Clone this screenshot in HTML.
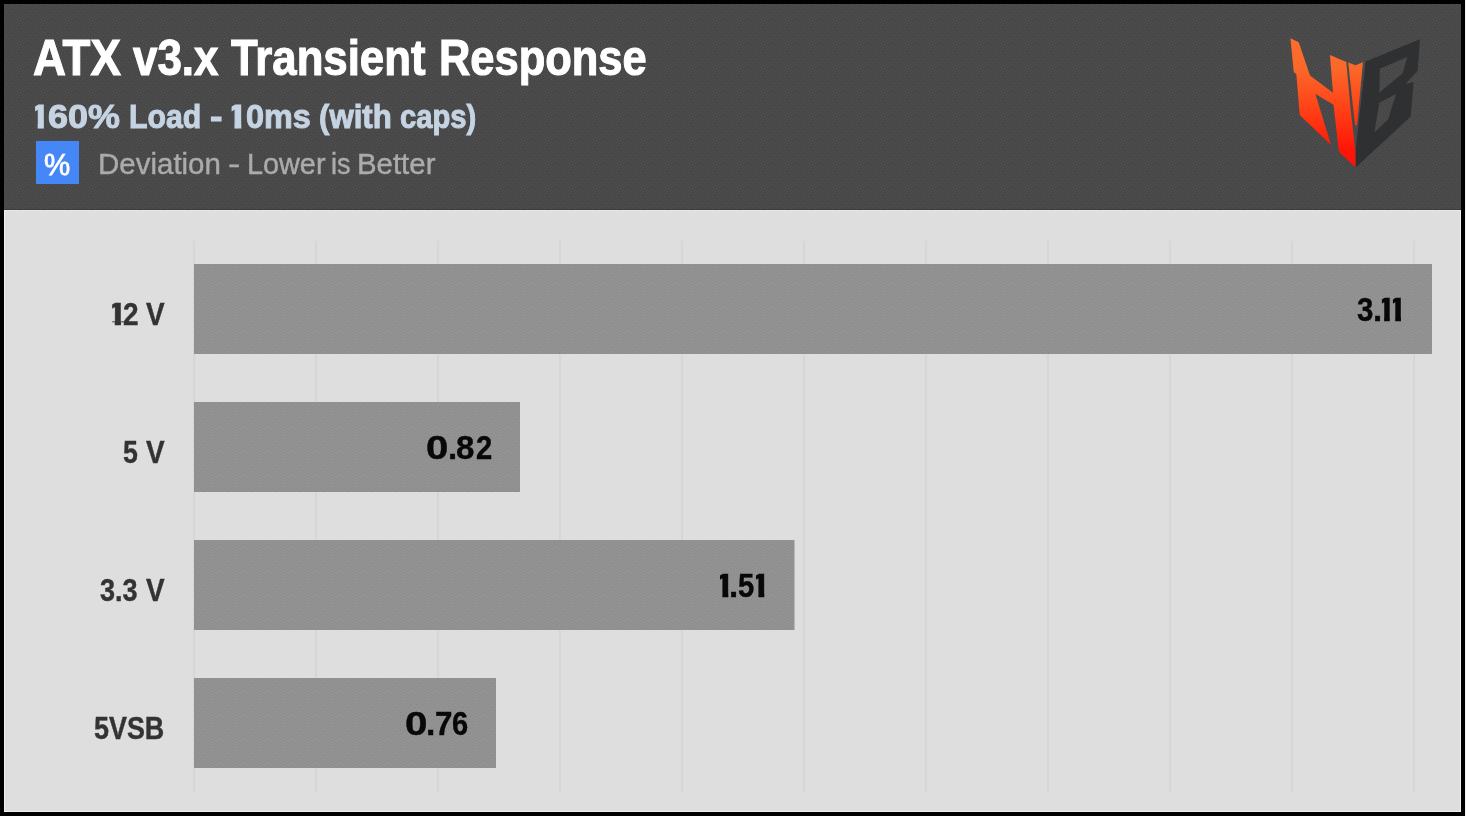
<!DOCTYPE html>
<html lang="en">
<head>
<meta charset="utf-8">
<title>ATX v3.x Transient Response</title>
<style>
*{margin:0;padding:0;box-sizing:border-box}
html,body{width:1466px;height:816px;overflow:hidden;background:#000}
body{position:relative;font-family:"Liberation Sans",sans-serif}
#frame{position:absolute;left:4px;top:4px;width:1457px;height:808px;background:#dedede;overflow:hidden}
#edge{position:absolute;left:1465px;top:0;width:1px;height:816px;background:#f4f4f4}
.ln{position:absolute;white-space:nowrap;font-size:0;line-height:0}
.ln span{display:inline-block;font-size:var(--f);line-height:1;transform-origin:0 0;vertical-align:top}
.t{position:absolute;top:0;white-space:nowrap;line-height:1;transform-origin:0 0}
.ti{font-weight:700;color:#fff;-webkit-text-stroke:1.1px #fff}
.su{font-weight:700;color:#c5d3e3;-webkit-text-stroke:1.0px #c5d3e3}
.de{color:#ababab;-webkit-text-stroke:0.4px #ababab}
.pc{color:#fff}
.la{font-weight:700;color:#333;-webkit-text-stroke:0.4px #333}
.va{font-weight:700;color:#080808;-webkit-text-stroke:0.4px #080808}
#unit{position:absolute;left:32px;top:137px;width:43px;height:43px;background:#4687f7}
</style>
</head>
<body>
<div id="frame">
  <svg id="bg" width="1457" height="808" viewBox="0 0 1457 808" style="position:absolute;left:0;top:0" shape-rendering="crispEdges">
  <defs>
    <pattern id="ph" width="6" height="6" patternUnits="userSpaceOnUse"><rect x="0" y="0" width="1" height="1" fill="#535353"/><rect x="3" y="1" width="1" height="1" fill="#535353"/><rect x="1" y="3" width="1" height="1" fill="#535353"/><rect x="4" y="4" width="1" height="1" fill="#535353"/></pattern>
    <pattern id="pb" width="6" height="6" patternUnits="userSpaceOnUse"><rect x="0" y="0" width="1" height="1" fill="#87878c"/><rect x="3" y="1" width="1" height="1" fill="#87878c"/><rect x="1" y="3" width="1" height="1" fill="#87878c"/><rect x="4" y="4" width="1" height="1" fill="#87878c"/></pattern>
  </defs>
  <rect x="0" y="0" width="1457" height="205" fill="#484848"/>
  <rect x="0" y="0" width="1457" height="205" fill="url(#ph)"/>
  <rect x="0" y="205" width="1457" height="1" fill="#3c3c3c"/>
  <rect x="0" y="206" width="1457" height="1" fill="#e8e8e8"/>
  <rect x="189" y="237" width="2" height="551" fill="#d6d6d6"/><rect x="311" y="237" width="2" height="551" fill="#d6d6d6"/><rect x="433" y="237" width="2" height="551" fill="#d6d6d6"/><rect x="555" y="237" width="2" height="551" fill="#d6d6d6"/><rect x="677" y="237" width="2" height="551" fill="#d6d6d6"/><rect x="799" y="237" width="2" height="551" fill="#d6d6d6"/><rect x="921" y="237" width="2" height="551" fill="#d6d6d6"/><rect x="1043" y="237" width="2" height="551" fill="#d6d6d6"/><rect x="1165" y="237" width="2" height="551" fill="#d6d6d6"/><rect x="1287" y="237" width="2" height="551" fill="#d6d6d6"/><rect x="1409" y="237" width="2" height="551" fill="#d6d6d6"/>
  <rect x="190" y="260" width="1238" height="90" fill="#929292" shape-rendering="auto"/><rect x="190" y="260" width="1238" height="90" fill="url(#pb)"/><rect x="190" y="398" width="326" height="90" fill="#929292" shape-rendering="auto"/><rect x="190" y="398" width="326" height="90" fill="url(#pb)"/><rect x="190" y="536" width="600.5" height="90" fill="#929292" shape-rendering="auto"/><rect x="190" y="536" width="600" height="90" fill="url(#pb)"/><rect x="190" y="674" width="302" height="90" fill="#929292" shape-rendering="auto"/><rect x="190" y="674" width="302" height="90" fill="url(#pb)"/>
  <rect x="1456" y="207" width="1" height="601" fill="#f0f0f0"/>
  <rect x="0" y="207" width="1" height="601" fill="#f0f0f0"/>
  <rect x="0" y="807" width="1457" height="1" fill="#f0f0f0"/>
</svg>
  <div id="unit"><span class="t pc" style="text-rendering:geometricPrecision;left:8.26px;top:9.08px;font-size:30.48px;-webkit-text-stroke:0.76px #fff;transform:scaleX(0.9685)">%</span></div>
  <div class="ln ti" aria-label="ATX v3.x Transient Response" style="left:29.14px;top:29.98px;--f:49.56px"><span style="width:99.90px;transform:scaleX(0.9213)">ATX</span> <span style="width:97.86px;transform:scaleX(0.8861)">v3.x</span> <span style="width:207.71px;transform:scaleX(0.8828)">Transient</span> <span style="width:0.00px;transform:scaleX(0.8766)">Response</span></div>
  <div class="ln su" aria-label="160% Load - 10ms (with caps)" style="left:25.55px;top:95.69px;--f:33.43px"><span style="width:18.33px;transform:scaleX(1.0666);clip-path:polygon(0.1416em 0,.5em 0,.5em 0.7257em,0.3896em 0.7257em,0.3896em 1em,0.2144em 1em,0.2144em 0.7257em,0.1416em 0.7257em)">1</span><span style="width:81.31px;transform:scaleX(1.0750)">60%</span> <span style="width:80.47px;transform:scaleX(0.9052)">Load</span> <span style="width:16.57px;transform:scaleX(1.1230)">-</span> <span style="width:19.66px;transform:scaleX(1.1769);clip-path:polygon(0.1416em 0,.5em 0,.5em 0.7257em,0.3896em 0.7257em,0.3896em 1em,0.2144em 1em,0.2144em 0.7257em,0.1416em 0.7257em)">1</span><span style="width:73.32px;transform:scaleX(0.9679)">0ms</span> <span style="width:80.56px;transform:scaleX(0.9333)">(with</span> <span style="width:0.00px;transform:scaleX(0.8739)">caps)</span></div>
  <div class="ln de" aria-label="Deviation - Lower is Better" style="left:94.39px;top:146.19px;--f:29.07px"><span style="width:129.42px;transform:scaleX(1.0145)">Deviation</span> <span style="width:18.73px;transform:scaleX(1.2815)">-</span> <span style="width:84.83px;transform:scaleX(0.9916)">Lower</span> <span style="width:25.22px;transform:scaleX(0.9318)">is</span> <span style="width:0.00px;transform:scaleX(1.0114)">Better</span></div>
  <div class="ln la" aria-label="12 V" style="left:102.41px;top:295.59px;--f:30.96px"><span style="width:16.95px;transform:scaleX(1.2673);clip-path:polygon(0.1579em 0,.5em 0,.5em 0.7342em,0.3811em 0.7342em,0.3811em 1em,0.2229em 1em,0.2229em 0.7342em,0.1579em 0.7342em)">1</span><span style="width:22.34px;transform:scaleX(0.9031)">2</span> <span style="width:0.00px;transform:scaleX(0.9015)">V</span></div>
  <div class="ln la" aria-label="5 V" style="left:119.23px;top:433.59px;--f:30.96px"><span style="width:22.47px;transform:scaleX(0.8613)">5</span> <span style="width:0.00px;transform:scaleX(0.9015)">V</span></div>
  <div class="ln la" aria-label="3.3 V" style="left:96.49px;top:571.59px;--f:30.96px"><span style="width:45.21px;transform:scaleX(0.8741)">3.3</span> <span style="width:0.00px;transform:scaleX(0.9015)">V</span></div>
  <div class="ln la" aria-label="5VSB" style="left:90.23px;top:709.59px;--f:30.96px"><span style="width:0.00px;transform:scaleX(0.8689)">5VSB</span></div>
  <div class="ln va" aria-label="3.11" style="left:1352.56px;top:288.54px;--f:33.14px"><span style="width:16.27px;transform:scaleX(0.8875)">3</span><span style="width:2.72px;transform:scaleX(0.9929)">.</span><span style="width:11.62px;transform:scaleX(1.0938);clip-path:polygon(0.1587em 0,.5em 0,.5em 0.7347em,0.3806em 0.7347em,0.3806em 1em,0.2234em 1em,0.2234em 0.7347em,0.1587em 0.7347em)">1</span><span style="width:0.00px;transform:scaleX(1.1076);clip-path:polygon(0.1587em 0,.5em 0,.5em 0.7347em,0.3806em 0.7347em,0.3806em 1em,0.2234em 1em,0.2234em 0.7347em,0.1587em 0.7347em)">1</span></div>
  <div class="ln va" aria-label="0.82" style="left:422.49px;top:426.54px;--f:33.14px"><span style="width:21.14px;transform:scaleX(1.2132)">0</span><span style="width:8.64px;transform:scaleX(0.9929)">.</span><span style="width:19.35px;transform:scaleX(0.9979)">8</span><span style="width:0.00px;transform:scaleX(0.8806)">2</span></div>
  <div class="ln va" aria-label="1.51" style="left:709.83px;top:564.54px;--f:33.14px"><span style="width:15.60px;transform:scaleX(1.1353);clip-path:polygon(0.1587em 0,.5em 0,.5em 0.7347em,0.3806em 0.7347em,0.3806em 1em,0.2234em 1em,0.2234em 0.7347em,0.1587em 0.7347em)">1</span><span style="width:8.84px;transform:scaleX(0.9929)">.</span><span style="width:11.66px;transform:scaleX(0.8816)">5</span><span style="width:0.00px;transform:scaleX(1.1353);clip-path:polygon(0.1587em 0,.5em 0,.5em 0.7347em,0.3806em 0.7347em,0.3806em 1em,0.2234em 1em,0.2234em 0.7347em,0.1587em 0.7347em)">1</span></div>
  <div class="ln va" aria-label="0.76" style="left:400.99px;top:702.54px;--f:33.14px"><span style="width:21.00px;transform:scaleX(1.2194)">0</span><span style="width:8.71px;transform:scaleX(1.0123)">.</span><span style="width:17.03px;transform:scaleX(0.9457)">7</span><span style="width:0.00px;transform:scaleX(0.8778)">6</span></div>
  <svg id="logo" viewBox="1280 30 150 150" width="150" height="150" style="position:absolute;left:1276px;top:26px">
  <defs><linearGradient id="og" gradientUnits="userSpaceOnUse" x1="0" y1="40" x2="0" y2="168">
    <stop offset="0" stop-color="#fb6f2c"/><stop offset="0.22" stop-color="#fb682a"/><stop offset="0.55" stop-color="#ff4016"/><stop offset="0.85" stop-color="#ff1606"/><stop offset="1" stop-color="#ff1004"/></linearGradient></defs>
  <polygon fill="url(#og)" points="1290.4,38.3 1298.7,42.3 1310,75.6 1333,92.7 1329.9,55 1346.3,61.9 1350.7,110 1355.1,148.8 1355.6,167.5 1338.9,151.8 1333.5,104.7 1315.4,93.9 1331,144.9 1299.7,115 1296.3,74.1 1293.8,72.2"/>
  <polygon fill="url(#og)" points="1348.2,62.4 1355.6,65.3 1362.9,62.2 1357,125.3 1355,125.3"/>
  <path fill="#2e3032" fill-rule="evenodd" d="M1365.6,61.4 L1420,39.3 L1417.5,71.2 L1405.3,83.9 L1413.6,82 L1410.7,116.5 L1355.8,167.5 L1355.8,148.8 Z M1379.8,68.7 L1407.3,57 L1402.8,73.1 L1379.3,92.7 Z M1379.3,102.7 L1396,93.9 L1388.1,119.4 L1374.4,132.2 Z"/>
</svg>

</div>
<div id="edge"></div>
</body>
</html>
